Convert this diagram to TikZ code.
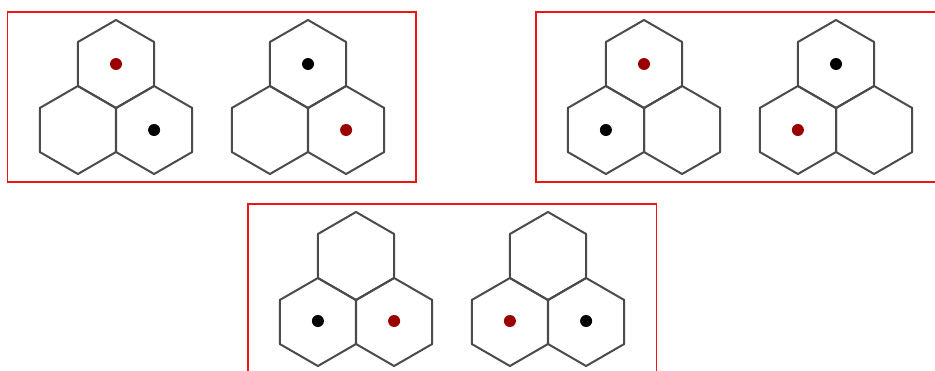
\documentclass[tikz,border=0pt]{standalone}
\usepackage{tikz}
\usetikzlibrary{calc}
\definecolor{FrameRed}{RGB}{240,20,20}
\definecolor{HexGray}{RGB}{75,75,75}
\definecolor{DotRed}{RGB}{155,0,0}

\begin{document}
\begin{tikzpicture}[x=1pt, y=1pt,
  frame/.style={draw=FrameRed, line width=1.5pt},
  hexline/.style={draw=HexGray, line width=2pt, line join=round},
  reddot/.style={circle, fill=DotRed, inner sep=0pt, minimum size=12pt},
  blackdot/.style={circle, fill=black, inner sep=0pt, minimum size=12pt}
]
\clip (0,0) rectangle (935,-370);

% frames
\draw[frame] (7.5,-12) rectangle (416,-182);
\draw[frame] (536,-12) rectangle (944.5,-182);
\draw[frame] (248,-204) rectangle (656.5,-374);

% cell centres: t = top, l = lower left, r = lower right
\foreach \cl/\cx/\cy in {A/116/64, B/308/64, C/644/64, D/836/64, E/356/256, F/548/256} {
  \coordinate (\cl-t) at (\cx,-\cy);
  \coordinate (\cl-l) at ($(\cl-t)+(-38.1,-66)$);
  \coordinate (\cl-r) at ($(\cl-t)+(38.1,-66)$);
}

% hexagons
\foreach \cl in {A,B,C,D,E,F}
  \foreach \c in {t,l,r}
    \draw[hexline] (\cl-\c) ++(0,44) -- ++(-30:44) -- ++(0,-44)
      -- ++(-150:44) -- ++(150:44) -- ++(0,44) -- cycle;

% dots
\node[reddot]   (A-red) at (A-t) {};
\node[blackdot] (A-blk) at (A-r) {};
\node[blackdot] (B-blk) at (B-t) {};
\node[reddot]   (B-red) at (B-r) {};
\node[reddot]   (C-red) at (C-t) {};
\node[blackdot] (C-blk) at (C-l) {};
\node[blackdot] (D-blk) at (D-t) {};
\node[reddot]   (D-red) at (D-l) {};
\node[blackdot] (E-blk) at ($(E-l)+(0,1)$) {};
\node[reddot]   (E-red) at ($(E-r)+(0,1)$) {};
\node[reddot]   (F-red) at ($(F-l)+(0,1)$) {};
\node[blackdot] (F-blk) at ($(F-r)+(0,1)$) {};
\end{tikzpicture}
\end{document}
